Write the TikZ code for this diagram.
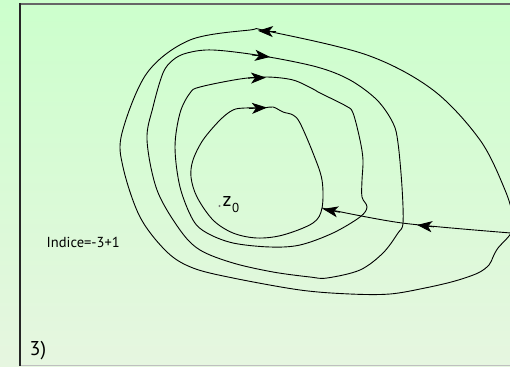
\documentclass[tikz,border=0pt]{standalone}
\usepackage{fontspec}
\setmainfont{PT Sans}
\usetikzlibrary{arrows.meta}
\definecolor{bgtop}{HTML}{CCFFCC}
\definecolor{bgbot}{HTML}{E6F6E0}
\tikzset{
  curve/.style={line width=0.9pt, black},
  arr/.style={line width=0.9pt, -{Stealth[length=15pt,width=11pt,inset=4pt]}},
  lbl/.style={inner sep=0pt, anchor=base west},
}
\begin{document}
\begin{tikzpicture}[x=1pt,y=-1pt]
\useasboundingbox (0,0) rectangle (510,366);
\shade[top color=bgtop, bottom color=bgbot] (0,0) rectangle (510,366);
\begin{scope}
\clip (0,0) rectangle (510,366);
% frame
\draw[line width=1.3pt, black!60] (20,4) -- (512,4);
\draw[line width=0.8pt, black!25] (20,365.5) -- (512,365.5);
\draw[line width=1.1pt, black!85] (20,3.4) -- (20,366);
% coordinates
\coordinate (P) at (511,233);
\coordinate (Q) at (402,223);
\coordinate (R) at (322,208);
% outer loop
\draw[curve] plot[smooth cycle, tension=0.55] coordinates {
 (511,233) (498,248) (493,257) (489,265) (478,273) (455,281) (425,288) (390,294)
 (350,294) (300,290) (233,278) (193,268) (167,252) (140,217) (123,167) (122,133) (147,73)
 (190,40) (250,30) (267,31) (367,55) (433,90) (480,140) (505,190) (513,218)};
% third loop
\draw[curve] plot[smooth cycle, tension=0.55] coordinates {
 (398,143) (402,187) (403,223) (398,233) (383,253) (360,270) (327,278) (310,277)
 (273,272) (233,263) (200,250) (180,230) (157,190) (147,140) (153,107) (163,73)
 (173,60) (187,53) (213,50) (263,56) (317,67) (350,80) (377,100) (393,123)};
% second loop
\draw[curve] plot[smooth cycle, tension=0.55] coordinates {
 (367,207) (362,197) (362,180) (363,160) (360,140) (353,113) (346,106) (320,93)
 (313,89) (293,80) (267,77) (240,79) (200,87) (190,93) (180,113) (175,147)
 (180,187) (193,220) (207,233) (233,243) (270,247) (300,245) (333,233) (360,217)};
% inner loop
\draw[curve] plot[smooth cycle, tension=0.55] coordinates {
 (322,208) (322,180) (313,153) (300,123) (293,115) (283,112) (273,107) (263,108)
 (245,108) (233,110) (220,120) (203,140) (193,160) (191,177) (197,197) (213,220)
 (233,233) (257,238) (283,235) (313,223)};
% connector
\draw[curve] plot[smooth, tension=0.5] coordinates {(P) (Q) (R)};
% arrowheads
\draw[arr] (434,226.9) -- (417,225);
\draw[arr] (340,212.3) -- (323,209);
\draw[arr] (276,31.7) -- (258,30.8);
\draw[arr] (252,55) -- (270,57);
\draw[arr] (248,78.1) -- (266,77.6);
\draw[arr] (249,108.5) -- (267,107.6);
\end{scope}
% labels
\fill[black!55] (219.5,206) circle (1.1pt);
\node[lbl, font=\fontsize{20}{22}\selectfont] (z) at (222.5,206.5) {z};
\node[lbl, font=\fontsize{13}{14}\selectfont] (zsub) at (232,212) {0};
\node[lbl, font=\fontsize{14.5}{16}\selectfont] (ind) at (46.5,247.5) {Indice=-3+1};
\node[lbl, font=\fontsize{20}{22}\selectfont] (three) at (29.5,355) {3)};
\end{tikzpicture}
\end{document}
